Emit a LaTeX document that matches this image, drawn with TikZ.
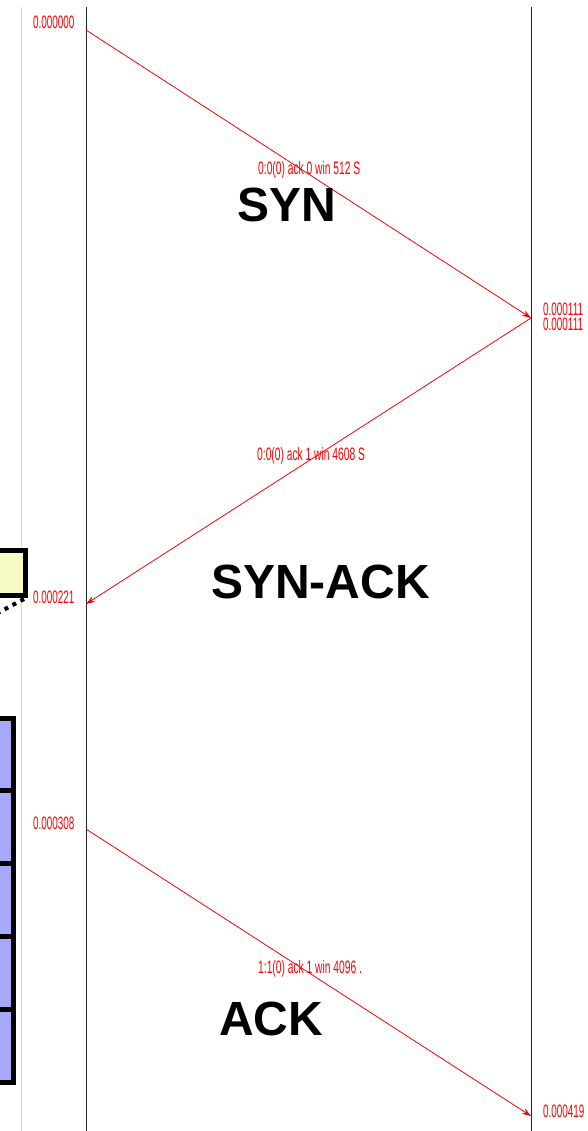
\documentclass[tikz,border=0pt]{standalone}
\usepackage{fontspec}
\setmainfont{Liberation Sans}
\usetikzlibrary{arrows.meta}
\definecolor{boxblue}{RGB}{168,168,250}
\definecolor{boxyellow}{RGB}{248,250,196}
\definecolor{axisgray}{RGB}{215,215,215}
\begin{document}
\begin{tikzpicture}[x=1pt,y=-1pt,
  ts/.style={inner sep=0pt,anchor=base west,text=red,font=\fontsize{18}{18}\selectfont},
  big/.style={inner sep=0pt,anchor=base west,font=\fontsize{48}{48}\selectfont\bfseries},
  msg/.style={draw=red,line width=0.8pt,-{Stealth[length=9pt,width=6pt]}},
  lifeline/.style={draw=black!85,line width=0.9pt},
  thick box/.style={draw=black,line width=5pt}
]
\useasboundingbox (0,0) rectangle (587,1131);
\begin{scope}
\clip (0,0) rectangle (587,1131);
% background lines
\draw[axisgray,line width=1pt] (21,7) -- (21,1131);
\coordinate (lt) at (86,7);
\coordinate (lb) at (86,1131);
\coordinate (rt) at (531,7);
\coordinate (rb) at (531,1131);
\draw[lifeline] (lt) -- (lb);
\draw[lifeline] (rt) -- (rb);
% partial boxes on the left
\draw[thick box,fill=boxyellow] (-20,550.5) rectangle (25.5,595.5);
\coordinate (ycorner) at (24,599);
\coordinate (yend) at (-6,615);
\draw[line width=4pt,dash pattern=on 4pt off 5pt] (ycorner) -- (yend);
\foreach \k in {0,...,4}{
  \draw[thick box,fill=boxblue] (-20,{718+\k*72.9}) rectangle (13.5,{718+(\k+1)*72.9});
}
\end{scope}
% message endpoints
\coordinate (s0) at (86,30);
\coordinate (s1) at (531,318);
\coordinate (s2) at (86,604);
\coordinate (s3) at (86,829);
\coordinate (s4) at (531,1116);
\draw[msg] (s0) -- (s1);
\draw[msg] (s1) -- (s2);
\draw[msg] (s3) -- (s4);
% timestamps
\node[ts] (t0) at (33,29) {\scalebox{0.55}[1]{0.000000}};
\node[ts] (t1a) at (543,316) {\scalebox{0.55}[1]{0.000111}};
\node[ts] (t1b) at (543,330) {\scalebox{0.55}[1]{0.000111}};
\node[ts] (t2) at (33,603) {\scalebox{0.55}[1]{0.000221}};
\node[ts] (t3) at (33,829) {\scalebox{0.55}[1]{0.000308}};
\node[ts] (t4) at (543,1117) {\scalebox{0.55}[1]{0.000419}};
% message labels
\node[ts] (m1) at (258,175) {\scalebox{0.57}[1]{0:0(0) ack 0 win 512 S}};
\node[ts] (m2) at (257,460) {\scalebox{0.57}[1]{0:0(0) ack 1 win 4608 S}};
\node[ts] (m3) at (258,973) {\scalebox{0.57}[1]{1:1(0) ack 1 win 4096 .}};
% big labels
\node[big] (syn) at (237,222) {SYN};
\node[big] (synack) at (211,598) {SYN-ACK};
\node[big] (ack) at (219,1035) {ACK};
\end{tikzpicture}
\end{document}
